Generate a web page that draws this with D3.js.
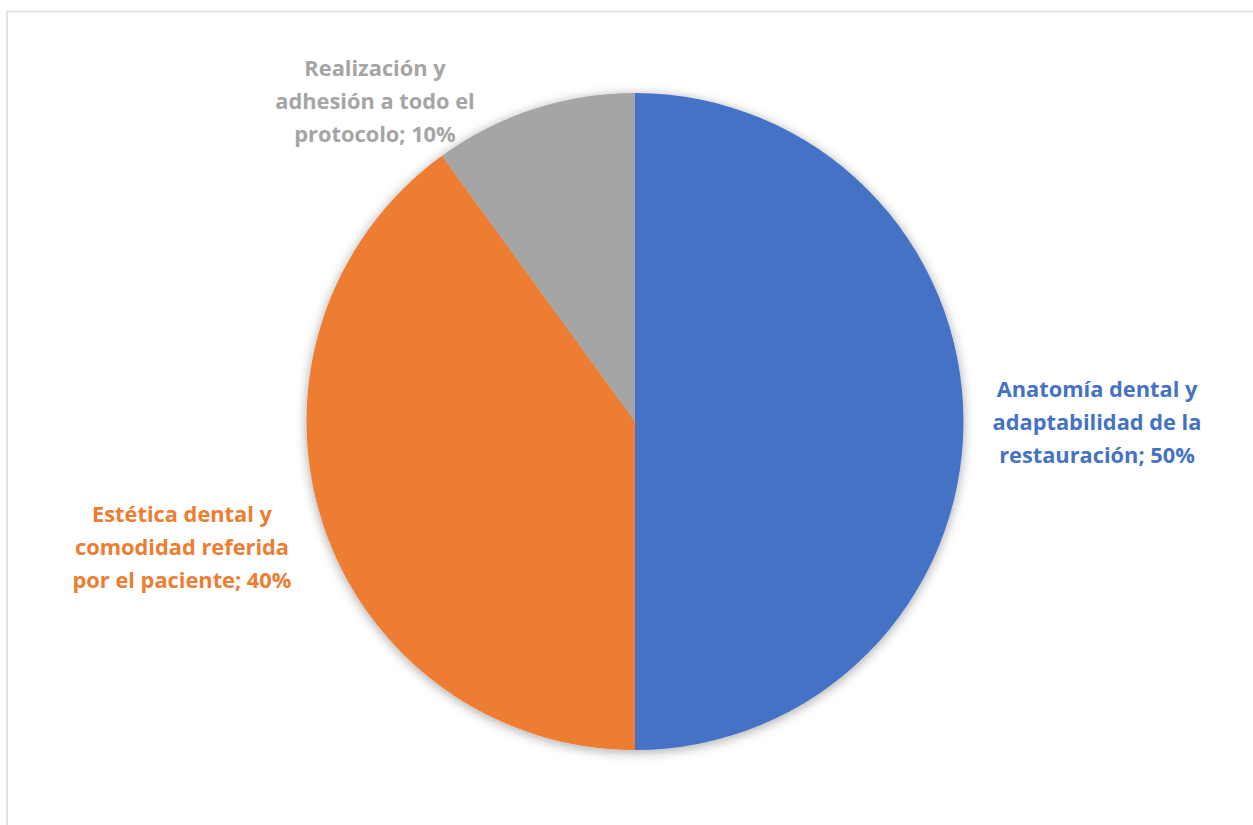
<!DOCTYPE html>
<html><head><meta charset="utf-8">
<script src="https://cdn.jsdelivr.net/npm/d3@7"></script>
<style>html,body{margin:0;padding:0;background:#fff;}svg{display:block;}</style>
</head><body>
<script>
const categories = ["Anatomía dental y adaptabilidad de la restauración", "Estética dental y comodidad referida por el paciente", "Realización y adhesión a todo el protocolo"];
const values = [50, 40, 10];
const labelLines = [
  ["Anatomía dental y", "adaptabilidad de la", "restauración; 50%"],
  ["Estética dental y", "comodidad referida", "por el paciente; 40%"],
  ["Realización y", "adhesión a todo el", "protocolo; 10%"]
];
const colors = ["#4472C4", "#ED7D31", "#A5A5A5"];

const W = 1253, H = 825;
const cx = 635, cy = 421.5, R = 328.5;
const svg = d3.select("body").append("svg").attr("width", W).attr("height", H);

svg.append("rect").attr("x", 7).attr("y", 11.5).attr("width", W + 10).attr("height", H + 10)
  .attr("fill", "#fff").attr("stroke", "#d9d9d9").attr("stroke-width", 1.5);

const defs = svg.append("defs");
const f = defs.append("filter").attr("id", "sh").attr("x", "-10%").attr("y", "-10%").attr("width", "120%").attr("height", "120%");
f.append("feGaussianBlur").attr("in", "SourceAlpha").attr("stdDeviation", 6).attr("result", "b");
f.append("feOffset").attr("in", "b").attr("dx", 0).attr("dy", 2).attr("result", "o");
f.append("feComponentTransfer").attr("in", "o").attr("result", "o2")
  .append("feFuncA").attr("type", "linear").attr("slope", 0.35);
const m = f.append("feMerge");
m.append("feMergeNode").attr("in", "o2");
m.append("feMergeNode").attr("in", "SourceGraphic");

const pie = d3.pie().sort(null).value(d => d)(values);
const arc = d3.arc().innerRadius(0).outerRadius(R);
const g = svg.append("g").attr("transform", `translate(${cx},${cy})`).attr("filter", "url(#sh)");
g.selectAll("path").data(pie).join("path").attr("d", arc).attr("fill", (d, i) => colors[i]);

const labelPos = [[1097, 389], [182, 514], [375, 68]];
const lh = 33;
labelLines.forEach((lines, i) => {
  const t = svg.append("text").attr("text-anchor", "middle")
    .attr("font-family", "'Open Sans', sans-serif").attr("font-weight", "bold")
    .attr("font-size", 21.8).attr("fill", colors[i]);
  lines.forEach((ln, j) => {
    t.append("tspan").attr("x", labelPos[i][0]).attr("y", labelPos[i][1] + j * lh).attr("dy", "0.35em").text(ln);
  });
});
</script>
</body></html>
